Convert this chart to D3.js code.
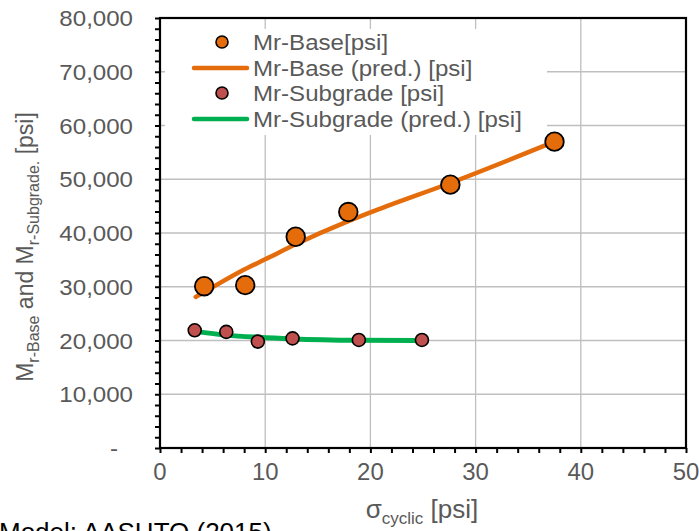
<!DOCTYPE html>
<html>
<head>
<meta charset="utf-8">
<script src="https://cdn.jsdelivr.net/npm/d3@7"></script>
<style>
  html, body { margin: 0; padding: 0; background: #fff; }
  svg { display: block; font-family: "Liberation Sans", Arial, sans-serif; }
</style>
</head>
<body>
<svg id="chart" width="699" height="531"></svg>
<script>
// Measured resilient modulus vs cyclic stress
const baseStress = [4.2, 8.1, 12.9, 17.9, 27.6, 37.5];
const baseMr = [30100, 30300, 39300, 43900, 49000, 57000];

const subStress = [3.3, 6.3, 9.3, 12.6, 18.9, 24.9];
const subMr = [21900, 21600, 19800, 20400, 20100, 20100];

// Model predictions (AASHTO 2015)
const basePredStress = [3.4, 4.2, 8.1, 10, 12.9, 17.9, 20.9, 27.6, 37.5];
const basePredMr = [28100, 29000, 33300, 35100, 37900, 42200, 44500, 49300, 57000];

const subPredStress = [3.3, 6.3, 9.3, 12.6, 18.9, 24.9];
const subPredMr = [21700, 21000, 20600, 20300, 20050, 20000];

const xTicks = [0, 10, 20, 30, 40, 50];
const yTicks = [0, 10000, 20000, 30000, 40000, 50000, 60000, 70000, 80000];

const legendLabels = ["Mr-Base[psi]", "Mr-Base (pred.) [psi]", "Mr-Subgrade [psi]", "Mr-Subgrade (pred.) [psi]"];

const colors = { base: "#E46C0A", sub: "#C0504D", subLine: "#00B050", text: "#595959", grid: "#BFBFBF" };

const svg = d3.select("#chart");
const plotL = 160, plotR = 686, plotT = 18, plotB = 448;

const x = d3.scaleLinear().domain([0, 50]).range([plotL, plotR]);
const y = d3.scaleLinear().domain([0, 80000]).range([plotB, plotT]);

// Text drawn slightly widened horizontally around its anchor point
function wideText(parent, px, py, str, size, stretch, anchor) {
  return parent.append("text")
    .attr("transform", `translate(${px},${py}) scale(${stretch},1)`)
    .attr("text-anchor", anchor || "start")
    .attr("font-size", size).attr("fill", colors.text)
    .text(str);
}

// Gridlines
const grid = svg.append("g");
grid.selectAll(".vg").data(xTicks.slice(1, -1)).enter().append("line")
  .attr("x1", d => x(d)).attr("x2", d => x(d)).attr("y1", plotT).attr("y2", plotB)
  .attr("stroke", colors.grid).attr("stroke-width", 1.3);
grid.selectAll(".hg").data(yTicks.slice(1, -1)).enter().append("line")
  .attr("x1", plotL).attr("x2", plotR).attr("y1", d => y(d)).attr("y2", d => y(d))
  .attr("stroke", colors.grid).attr("stroke-width", 1.3);

// Legend background hides the gridlines behind it
svg.append("rect").attr("x", 165).attr("y", 29).attr("width", 382).attr("height", 106).attr("fill", "#fff");

// Axes with minor ticks every 2,000 psi / 2 psi
const yAxis = d3.axisLeft(y).tickValues(d3.range(0, 80001, 2000)).tickSize(5).tickFormat("");
const xAxis = d3.axisBottom(x).tickValues(d3.range(0, 51, 2)).tickSize(5).tickFormat("");

const gy = svg.append("g").attr("transform", `translate(${plotL},0)`).call(yAxis);
const gx = svg.append("g").attr("transform", `translate(0,${plotB})`).call(xAxis);
[gy, gx].forEach(g => {
  g.select(".domain").remove();
  g.selectAll(".tick line").attr("stroke", "#000").attr("stroke-width", 2);
});

// Tick labels
const fmt = d3.format(",");
const yLab = svg.append("g");
yTicks.forEach(d => {
  wideText(yLab, d === 0 ? 118 : 133, y(d) + 8, d === 0 ? "-" : fmt(d), 22.5, 1.07, "end");
});
const xLab = svg.append("g");
xTicks.forEach(d => {
  wideText(xLab, x(d), 480, String(d), 23, 1.04, "middle");
});

// Plot frame
svg.append("rect").attr("x", plotL).attr("y", plotT).attr("width", plotR - plotL).attr("height", plotB - plotT)
  .attr("fill", "none").attr("stroke", "#000").attr("stroke-width", 2.2);

// Prediction curves
const line = d3.line().x(d => x(d[0])).y(d => y(d[1])).curve(d3.curveMonotoneX);
svg.append("path").datum(d3.zip(basePredStress, basePredMr)).attr("d", line)
  .attr("fill", "none").attr("stroke", colors.base).attr("stroke-width", 4.5).attr("stroke-linecap", "round");
svg.append("path").datum(d3.zip(subPredStress, subPredMr)).attr("d", line)
  .attr("fill", "none").attr("stroke", colors.subLine).attr("stroke-width", 5).attr("stroke-linecap", "round");

// Measured points
svg.append("g").selectAll("circle").data(d3.zip(baseStress, baseMr)).enter().append("circle")
  .attr("cx", d => x(d[0])).attr("cy", d => y(d[1])).attr("r", 9.3)
  .attr("fill", colors.base).attr("stroke", "#000").attr("stroke-width", 1.8);
svg.append("g").selectAll("circle").data(d3.zip(subStress, subMr)).enter().append("circle")
  .attr("cx", d => x(d[0])).attr("cy", d => y(d[1])).attr("r", 6.5)
  .attr("fill", colors.sub).attr("stroke", "#000").attr("stroke-width", 1.6);

// Legend
const legend = svg.append("g");
const rowsY = [42, 68, 93, 119];
legendLabels.forEach((label, i) => {
  const cy = rowsY[i];
  if (i === 0 || i === 2) {
    legend.append("circle").attr("cx", 222).attr("cy", cy).attr("r", 6)
      .attr("fill", i === 0 ? colors.base : colors.sub).attr("stroke", "#000").attr("stroke-width", 1.6);
  } else {
    legend.append("line").attr("x1", 194).attr("x2", 247).attr("y1", cy).attr("y2", cy)
      .attr("stroke", i === 1 ? colors.base : colors.subLine).attr("stroke-width", 4.5).attr("stroke-linecap", "round");
  }
  wideText(legend, 253, cy + 8, label, 22.5, 1.07, "start");
});

// Axis titles
const yt = svg.append("text")
  .attr("transform", "translate(33,247) rotate(-90)")
  .attr("text-anchor", "middle").attr("font-size", 23).attr("fill", colors.text);
yt.append("tspan").text("M");
yt.append("tspan").attr("font-size", 16).attr("dy", 6).text("r-Base");
yt.append("tspan").attr("dy", -6).text(" and M");
yt.append("tspan").attr("font-size", 16).attr("dy", 6).text("r-Subgrade.");
yt.append("tspan").attr("dy", -6).text(" [psi]");

const xt = svg.append("text")
  .attr("x", 422).attr("y", 518)
  .attr("text-anchor", "middle").attr("font-size", 26).attr("fill", colors.text);
xt.append("tspan").text("σ");
xt.append("tspan").attr("font-size", 17).attr("dy", 6).text("cyclic");
xt.append("tspan").attr("dy", -6).text(" [psi]");

// Model note
svg.append("text").attr("x", -1).attr("y", 541).attr("font-size", 26).attr("fill", "#000")
  .text("Model: AASHTO (2015)");
</script>
</body>
</html>
